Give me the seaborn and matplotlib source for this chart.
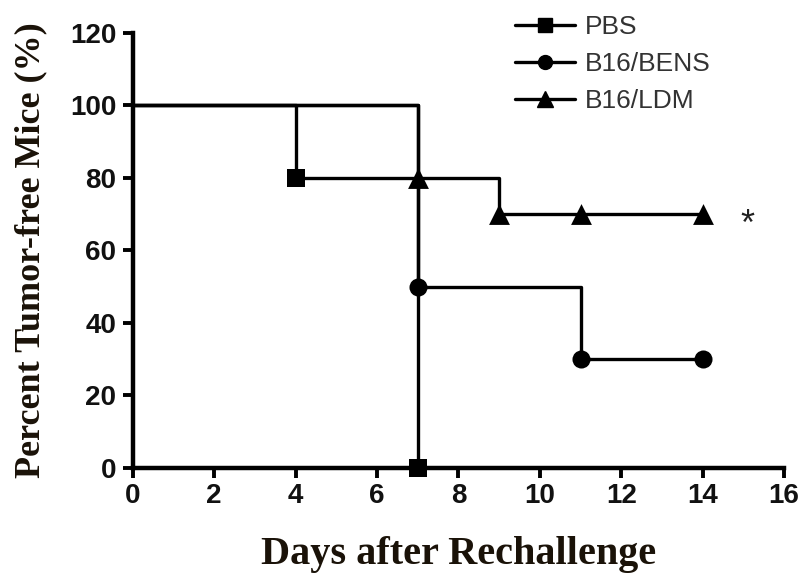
import matplotlib
matplotlib.use("Agg")
import matplotlib.pyplot as plt
import seaborn as sns
import pandas as pd
from matplotlib.lines import Line2D

# Data (Kaplan-Meier style step curves)
groups = ["PBS", "B16/BENS", "B16/LDM"]
pbs_days = [0, 4, 7]
pbs_pct = [100, 80, 0]
bens_days = [0, 7, 11, 14]
bens_pct = [100, 50, 30, 30]
ldm_days = [0, 7, 9, 11, 14]
ldm_pct = [100, 80, 70, 70, 70]
# event markers (days where a symbol is drawn)
pbs_mark_days = [4, 7]
pbs_mark_pct = [80, 0]
bens_mark_days = [7, 11, 14]
bens_mark_pct = [50, 30, 30]
ldm_mark_days = [7, 9, 11, 14]
ldm_mark_pct = [80, 70, 70, 70]
x_ticks = [0, 2, 4, 6, 8, 10, 12, 14, 16]
y_ticks = [0, 20, 40, 60, 80, 100, 120]

sns.set_style("ticks")
plt.rcParams["font.family"] = ["Liberation Sans", "DejaVu Sans"]

fig = plt.figure(figsize=(8, 5.77), dpi=100)
ax = fig.add_axes([0.166, 0.189, 0.814, 0.754])

markers = {"PBS": "s", "B16/BENS": "o", "B16/LDM": "^"}
msize = {"PBS": 12.5, "B16/BENS": 13, "B16/LDM": 15}
lines = {
    "PBS": (pbs_days, pbs_pct, pbs_mark_days, pbs_mark_pct),
    "B16/BENS": (bens_days, bens_pct, bens_mark_days, bens_mark_pct),
    "B16/LDM": (ldm_days, ldm_pct, ldm_mark_days, ldm_mark_pct),
}
for g in groups:
    d, p, md, mp = lines[g]
    df = pd.DataFrame({"day": d, "pct": p})
    sns.lineplot(data=df, x="day", y="pct", ax=ax, color="black", lw=2.4,
                 drawstyle="steps-post", clip_on=False, estimator=None, sort=False)
    dm = pd.DataFrame({"day": md, "pct": mp})
    sns.scatterplot(data=dm, x="day", y="pct", ax=ax, color="black",
                    marker=markers[g], s=msize[g] ** 2, edgecolor="black",
                    linewidth=0, clip_on=False, zorder=5)

ax.set_xlim(0, 16)
ax.set_ylim(0, 120)
ax.set_xticks(x_ticks)
ax.set_yticks(y_ticks)
for s in ["top", "right"]:
    ax.spines[s].set_visible(False)
for s in ["left", "bottom"]:
    ax.spines[s].set_linewidth(3.2)
    ax.spines[s].set_color("black")
ax.tick_params(axis="both", direction="out", length=7, width=2.8, color="black",
               labelsize=20)
ax.tick_params(axis="y", pad=5)
ax.tick_params(axis="x", pad=4)
for lab in ax.get_xticklabels() + ax.get_yticklabels():
    lab.set_fontweight("bold")
    lab.set_color("#111111")

ax.set_xlabel("Days after Rechallenge", family=["Liberation Serif", "DejaVu Serif"],
              fontsize=29, fontweight="bold", color="#1a1208", labelpad=19)
ax.set_ylabel("Percent Tumor-free Mice (%)", family=["Liberation Serif", "DejaVu Serif"],
              fontsize=26, fontweight="bold", color="#1a1208", labelpad=16)

ax.text(15.1, 67, "*", fontsize=26, ha="center", va="center", color="#222222")

handles = [Line2D([0], [0], color="black", lw=2.4, marker=markers[g],
                  markersize=10 if g != "B16/LDM" else 11.5) for g in groups]
leg = fig.legend(handles, groups, loc="upper left", bbox_to_anchor=(0.627, 0.997),
                 frameon=False, fontsize=19, handlelength=2.3, handletextpad=0.35,
                 labelspacing=0.5, borderpad=0)
for t in leg.get_texts():
    t.set_color("#333333")

fig.savefig("out.png", dpi=100)
